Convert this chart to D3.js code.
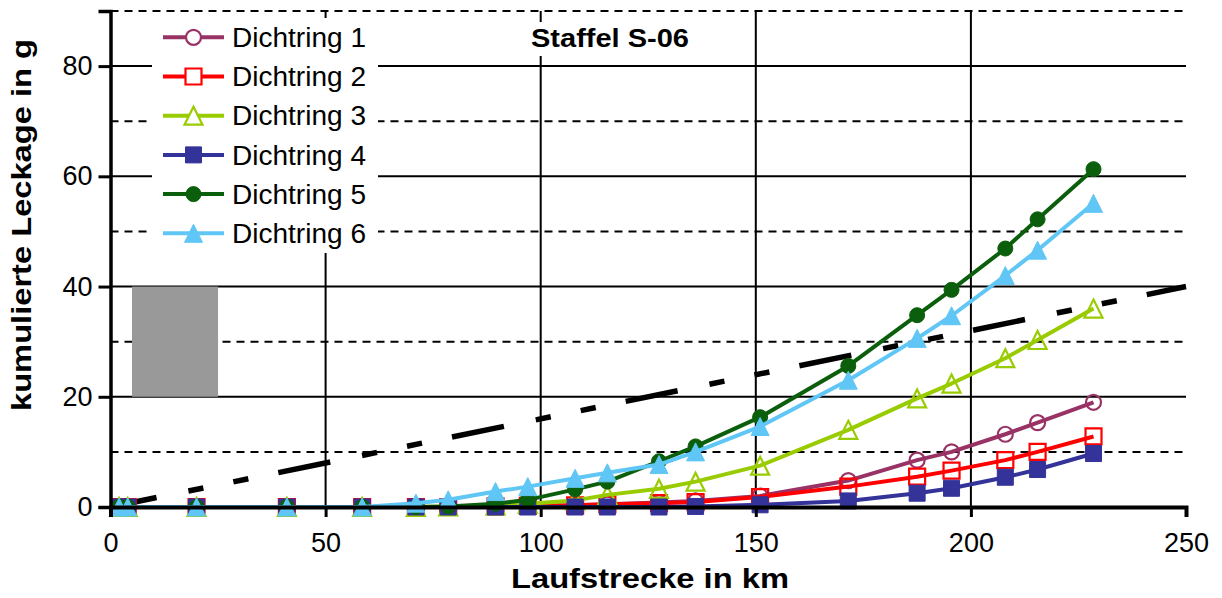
<!DOCTYPE html>
<html>
<head>
<meta charset="utf-8">
<script src="https://cdn.jsdelivr.net/npm/d3@7"></script>
<style>
  body { margin: 0; background: #fff; }
  svg { display: block; font-family: "Liberation Sans", Arial, sans-serif; }
</style>
</head>
<body>
<svg id="chart" width="1222" height="598"></svg>
<script>
// Running distance of each measurement (km)
const distanceKm = [2, 4, 20, 41, 58.5, 71, 78.5, 89.5, 97, 108, 115.5, 127.5, 136, 151, 171.5, 187.5, 195.5, 208, 215.5, 228.5];

// Cumulative leakage per sealing ring (g)
const ring1 = [0, 0, 0, 0, 0, 0, 0, 0.1, 0.2, 0.3, 0.5, 0.8, 1.1, 2.0, 4.8, 8.5, 10.0, 13.2, 15.3, 19.0];
const ring2 = [0, 0, 0, 0, 0, 0, 0, 0.1, 0.2, 0.3, 0.5, 0.7, 0.9, 1.8, 3.7, 5.5, 6.6, 8.5, 10.0, 12.8];
const ring3 = [0, 0, 0, 0, 0, 0, 0.1, 0.3, 0.6, 1.2, 2.2, 3.3, 4.6, 7.5, 14.0, 19.7, 22.4, 27.0, 30.3, 36.0];
const ring4 = [0, 0, 0, 0, 0, 0, 0, 0, 0, 0, 0, 0, 0.1, 0.4, 1.1, 2.5, 3.4, 5.4, 6.8, 9.7];
const ring5 = [0, 0, 0, 0, 0, 0, 0.1, 0.6, 1.3, 3.2, 4.6, 8.3, 11.0, 16.3, 25.6, 34.8, 39.4, 46.9, 52.2, 61.3];
const ring6 = [0, 0, 0, 0, 0, 0.7, 1.3, 2.8, 3.7, 5.2, 6.2, 7.7, 10.0, 14.6, 23.0, 30.6, 34.7, 42.0, 46.6, 55.1];

const seriesNames = ["Dichtring 1", "Dichtring 2", "Dichtring 3", "Dichtring 4", "Dichtring 5", "Dichtring 6"];
const seriesColors = ["#993366", "#ff0000", "#99cc00", "#333399", "#0b5e0b", "#5fc6f5"];
const seriesShapes = ["circle", "square", "triangle", "square", "circle", "triangle"];
const seriesFilled = [false, false, false, true, true, true];

// Axis ticks and grid
const xTicks = [0, 50, 100, 150, 200, 250];
const yTicks = [0, 20, 40, 60, 80];
const yMinorGrid = [10, 30, 50, 70, 90];
const xGrid = [50, 100, 150, 200];

// Limit line (g over km) and shaded band
const limitX = [0, 250];
const limitY = [0, 40];
const bandX = [5, 25];
const bandY = [20, 40];

const chartTitle = "Staffel S-06";
const xTitle = "Laufstrecke in km";
const yTitle = "kumulierte Leckage in g";

const allSeries = [ring1, ring2, ring3, ring4, ring5, ring6];

const svg = d3.select("#chart");
const plot = { left: 110.5, right: 1186, top: 11, bottom: 507 };

const x = d3.scaleLinear().domain([0, 250]).range([plot.left, plot.right]);
const y = d3.scaleLinear().domain([0, 90]).range([plot.bottom, plot.top]);

function markerPath(shape, s) {
  if (shape === "circle") return d3.symbol(d3.symbolCircle, Math.PI * s * s / 4)();
  if (shape === "square") return `M${-s / 2},${-s / 2}h${s}v${s}h${-s}Z`;
  return `M0,${-s / 2}L${s / 2},${s / 2}L${-s / 2},${s / 2}Z`;
}
function markerSize(i) {
  const shape = seriesShapes[i];
  if (shape === "circle") return 15;
  if (shape === "square") return 16;
  return 18;
}

// Grid
const grid = svg.append("g");
grid.selectAll("line.hmaj").data(yTicks.filter(d => d > 0)).join("line")
  .attr("x1", plot.left).attr("x2", plot.right)
  .attr("y1", d => y(d)).attr("y2", d => y(d))
  .attr("stroke", "#000").attr("stroke-width", 2);
grid.selectAll("line.hmin").data(yMinorGrid).join("line")
  .attr("x1", plot.left).attr("x2", plot.right)
  .attr("y1", d => y(d)).attr("y2", d => y(d))
  .attr("stroke", "#000").attr("stroke-width", 2)
  .attr("stroke-dasharray", "8,6");
grid.selectAll("line.v").data(xGrid).join("line")
  .attr("x1", d => x(d)).attr("x2", d => x(d))
  .attr("y1", plot.top).attr("y2", plot.bottom)
  .attr("stroke", "#000").attr("stroke-width", 2);

// Shaded band
svg.append("rect")
  .attr("x", x(bandX[0])).attr("y", y(bandY[1]))
  .attr("width", x(bandX[1]) - x(bandX[0]))
  .attr("height", y(bandY[0]) - y(bandY[1]))
  .attr("fill", "#999999");

// Limit line
svg.append("line")
  .attr("x1", x(limitX[0])).attr("y1", y(limitY[0]))
  .attr("x2", x(limitX[1])).attr("y2", y(limitY[1]))
  .attr("stroke", "#000").attr("stroke-width", 5.5)
  .attr("stroke-dasharray", "53,32.5,15.3,30.6,15.3,30.6")
  .attr("stroke-dashoffset", 6);

// Series
const line = d3.line().x((d, i) => x(distanceKm[i])).y(d => y(d));
allSeries.forEach((vals, i) => {
  const g = svg.append("g");
  g.append("path").attr("d", line(vals))
    .attr("fill", "none").attr("stroke", seriesColors[i])
    .attr("stroke-width", 4).attr("stroke-linejoin", "round");
  g.selectAll("path.m").data(vals).join("path")
    .attr("transform", (d, j) => `translate(${x(distanceKm[j])},${y(d)})`)
    .attr("d", markerPath(seriesShapes[i], markerSize(i)))
    .attr("fill", seriesFilled[i] ? seriesColors[i] : "none")
    .attr("stroke", seriesColors[i])
    .attr("stroke-width", seriesFilled[i] ? 1 : 2.2);
});

// Axes
const xAxis = svg.append("g").attr("transform", `translate(0,${plot.bottom})`)
  .call(d3.axisBottom(x).tickValues(xTicks).tickSize(10).tickPadding(16).tickFormat(d3.format("d")));
xAxis.select(".domain").attr("stroke-width", 4);
xAxis.selectAll(".tick line").attr("stroke-width", 3);
xAxis.selectAll("text").attr("font-size", 27).attr("fill", "#000");

const yAxis = svg.append("g").attr("transform", `translate(${plot.left},0)`)
  .call(d3.axisLeft(y).tickValues(yTicks).tickSize(12).tickPadding(6).tickFormat(d3.format("d")));
yAxis.select(".domain").attr("stroke-width", 3.5);
yAxis.selectAll(".tick line").attr("stroke-width", 3);
yAxis.selectAll("text").attr("font-size", 27).attr("fill", "#000");

// Axis titles
svg.append("text").attr("x", 650).attr("y", 588)
  .attr("text-anchor", "middle").attr("font-weight", "bold").attr("font-size", 27)
  .attr("textLength", 278).attr("lengthAdjust", "spacingAndGlyphs")
  .text(xTitle);
svg.append("text").attr("transform", "translate(31,225) rotate(-90)")
  .attr("text-anchor", "middle").attr("font-weight", "bold").attr("font-size", 27)
  .attr("textLength", 372).attr("lengthAdjust", "spacingAndGlyphs")
  .text(yTitle);

// Chart title with white background
svg.append("rect").attr("x", 522).attr("y", 22).attr("width", 176).attr("height", 34).attr("fill", "#fff");
svg.append("text").attr("x", 610).attr("y", 47)
  .attr("text-anchor", "middle").attr("font-weight", "bold").attr("font-size", 26)
  .attr("textLength", 158).attr("lengthAdjust", "spacingAndGlyphs")
  .text(chartTitle);

// Legend
const legend = svg.append("g");
legend.append("rect").attr("x", 152).attr("y", 18).attr("width", 226).attr("height", 235).attr("fill", "#fff");
seriesNames.forEach((name, i) => {
  const ly = 37.3 + i * 39.2;
  legend.append("line").attr("x1", 163).attr("x2", 224).attr("y1", ly).attr("y2", ly)
    .attr("stroke", seriesColors[i]).attr("stroke-width", 4);
  legend.append("path").attr("transform", `translate(193.5,${ly})`)
    .attr("d", markerPath(seriesShapes[i], markerSize(i)))
    .attr("fill", seriesFilled[i] ? seriesColors[i] : "#fff")
    .attr("stroke", seriesColors[i]).attr("stroke-width", seriesFilled[i] ? 1 : 2.2);
  legend.append("text").attr("x", 232).attr("y", ly).attr("dy", "0.36em")
    .attr("font-size", 27).attr("textLength", 134).attr("lengthAdjust", "spacingAndGlyphs")
    .text(name);
});
</script>
</body>
</html>
